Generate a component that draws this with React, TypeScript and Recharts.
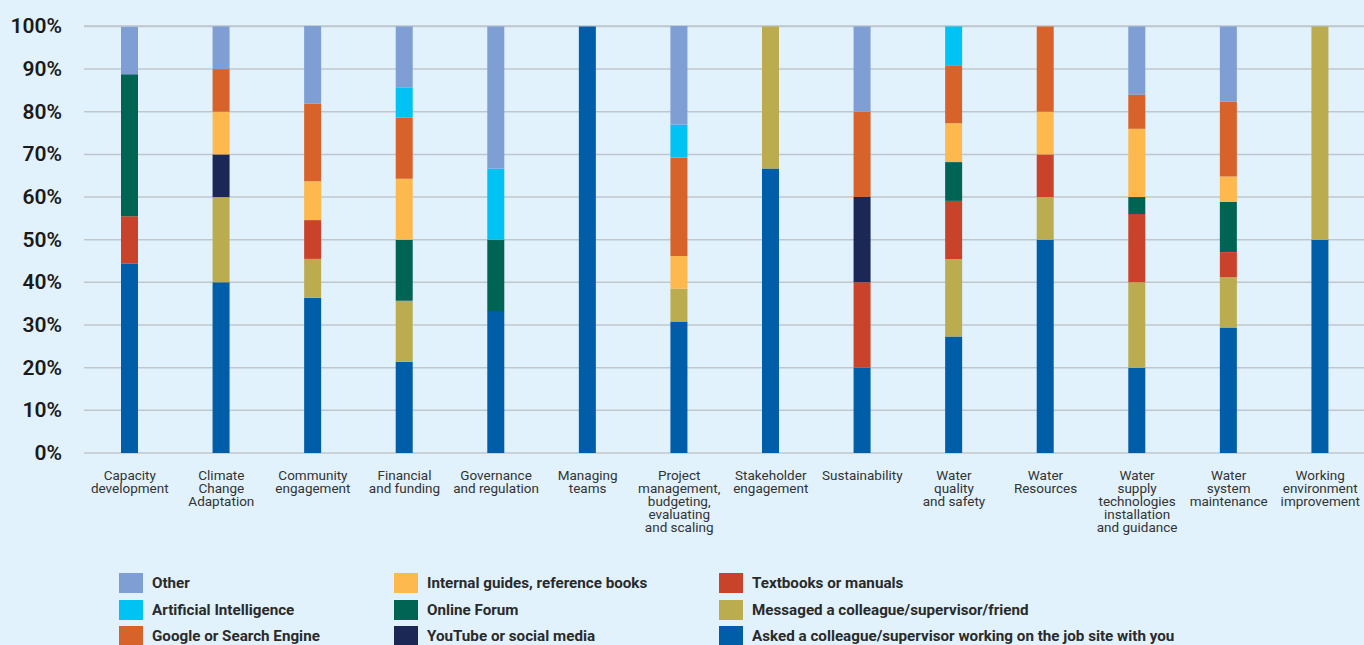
import React from 'react';
import { BarChart, Bar, XAxis, YAxis, CartesianGrid } from 'recharts';

// Topic areas on the x axis ("\n" marks where each label wraps)
const categories = [
  'Capacity\ndevelopment',
  'Climate\nChange\nAdaptation',
  'Community\nengagement',
  'Financial\nand funding',
  'Governance\nand regulation',
  'Managing\nteams',
  'Project\nmanagement,\nbudgeting,\nevaluating\nand scaling',
  'Stakeholder\nengagement',
  'Sustainability',
  'Water\nquality\nand safety',
  'Water\nResources',
  'Water\nsupply\ntechnologies\ninstallation\nand guidance',
  'Water\nsystem\nmaintenance',
  'Working\nenvironment\nimprovement',
];

// Share of answers (%) per source, one value per topic, bottom of the stack first
const asked = [44.4, 40, 36.4, 21.4, 33.3, 100, 30.8, 66.7, 20, 27.3, 50, 20, 29.4, 50];
const messaged = [0, 20, 9.1, 14.3, 0, 0, 7.7, 33.3, 0, 18.2, 10, 20, 11.8, 50];
const textbooks = [11.1, 0, 9.1, 0, 0, 0, 0, 0, 20, 13.6, 10, 16, 5.9, 0];
const youtube = [0, 10, 0, 0, 0, 0, 0, 0, 20, 0, 0, 0, 0, 0];
const onlineForum = [33.3, 0, 0, 14.3, 16.7, 0, 0, 0, 0, 9.1, 0, 4, 11.8, 0];
const internalGuides = [0, 10, 9.1, 14.3, 0, 0, 7.7, 0, 0, 9.1, 10, 16, 5.9, 0];
const google = [0, 10, 18.2, 14.3, 0, 0, 23.1, 0, 20, 13.6, 20, 8, 17.6, 0];
const ai = [0, 0, 0, 7.1, 16.7, 0, 7.7, 0, 0, 9.1, 0, 0, 0, 0];
const other = [11.1, 10, 18.2, 14.3, 33.3, 0, 23.1, 0, 20, 0, 0, 16, 17.6, 0];

const yTicks = [0, 10, 20, 30, 40, 50, 60, 70, 80, 90, 100];

const series = [
  { key: 'asked', name: 'Asked a colleague/supervisor working on the job site with you', color: '#005DA8', values: asked },
  { key: 'messaged', name: 'Messaged a colleague/supervisor/friend', color: '#BBAC50', values: messaged },
  { key: 'textbooks', name: 'Textbooks or manuals', color: '#C9432B', values: textbooks },
  { key: 'youtube', name: 'YouTube or social media', color: '#1B2754', values: youtube },
  { key: 'forum', name: 'Online Forum', color: '#006455', values: onlineForum },
  { key: 'guides', name: 'Internal guides, reference books', color: '#FDB94E', values: internalGuides },
  { key: 'google', name: 'Google or Search Engine', color: '#D8632A', values: google },
  { key: 'ai', name: 'Artificial Intelligence', color: '#00C2F3', values: ai },
  { key: 'other', name: 'Other', color: '#7F9ED3', values: other },
];

const data = categories.map((cat, i) => {
  const row: { [k: string]: string | number } = { category: cat };
  series.forEach((s) => {
    row[s.key] = s.values[i];
  });
  return row;
});

// legend reads column by column, top of the stack first
const legendOrder = [...series].reverse();

const BG = '#E1F2FC';
const FONT = 'Roboto, "Noto Sans", sans-serif';

const XTick = (props: any) => {
  const { x, y, payload } = props;
  const lines = String(payload.value).split('\n');
  return (
    <text x={x} y={y + 25} textAnchor="middle" fill="#333" fontSize={13.5} fontFamily={FONT}>
      {lines.map((l, i) => (
        <tspan key={i} x={x} dy={i === 0 ? 0 : 13}>
          {l}
        </tspan>
      ))}
    </text>
  );
};

const YTick = (props: any) => {
  const { y, payload } = props;
  return (
    <text x={62} y={y + 7} textAnchor="end" fill="#1a1a1a" fontSize={21} fontWeight={600} fontFamily={FONT}>
      {`${payload.value}%`}
    </text>
  );
};

const colX = [119, 394, 719];

export default function App() {
  return (
    <div
      style={{
        position: 'absolute',
        left: 0,
        top: 0,
        width: 1364,
        height: 645,
        overflow: 'hidden',
        background: BG,
        fontFamily: FONT,
      }}
    >
      <BarChart
        width={1366}
        height={545}
        data={data}
        margin={{ top: 26, right: 0, bottom: 0, left: 0 }}
        barSize={17}
      >
        <CartesianGrid horizontal vertical={false} stroke="#BFC7CD" strokeWidth={1.5} />
        <XAxis
          dataKey="category"
          axisLine={false}
          tickLine={false}
          tickSize={0}
          height={92}
          interval={0}
          tick={<XTick />}
        />
        <YAxis
          width={84}
          domain={[0, 100]}
          ticks={yTicks}
          axisLine={false}
          tickLine={false}
          tick={<YTick />}
        />
        {series.map((s) => (
          <Bar key={s.key} dataKey={s.key} name={s.name} stackId="a" fill={s.color} isAnimationActive={false} />
        ))}
      </BarChart>

      {legendOrder.map((s, i) => {
        const col = Math.floor(i / 3);
        const row = i % 3;
        return (
          <div
            key={s.key}
            style={{
              position: 'absolute',
              left: colX[col],
              top: 573 + row * 26.7,
              height: 20,
              display: 'flex',
              alignItems: 'center',
              whiteSpace: 'nowrap',
            }}
          >
            <div style={{ width: 24, height: 20, background: s.color, marginRight: 9 }} />
            <span style={{ fontSize: 15.2, fontWeight: 700, color: '#2a2a2a' }}>{s.name}</span>
          </div>
        );
      })}
    </div>
  );
}
